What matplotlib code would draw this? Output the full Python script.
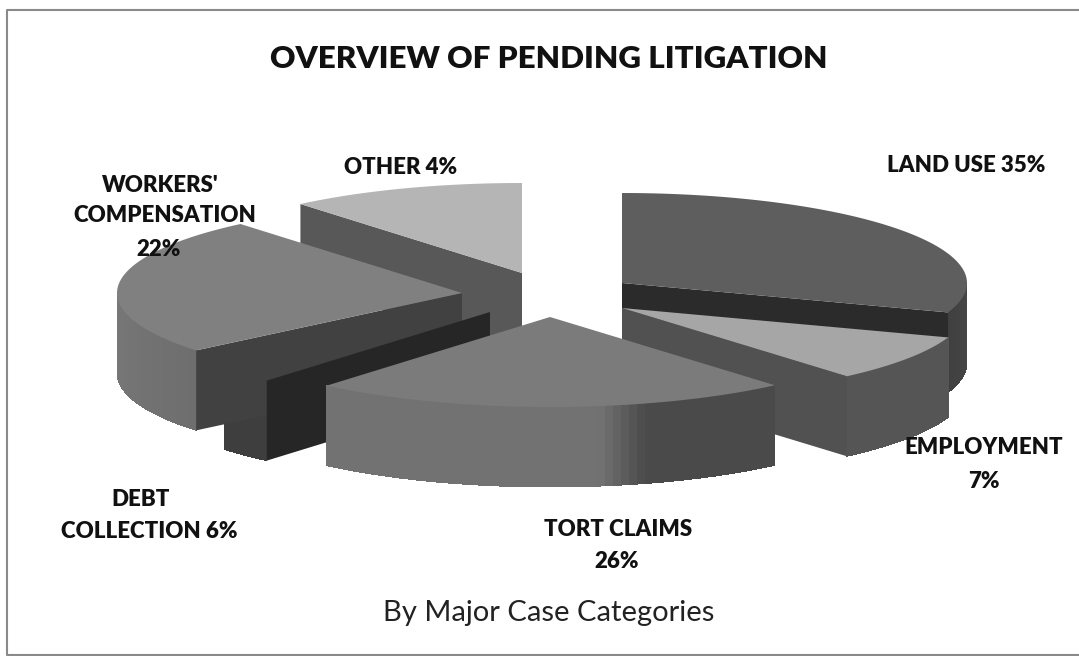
import numpy as np
import matplotlib
matplotlib.use("Agg")
import matplotlib.pyplot as plt
from matplotlib.collections import PolyCollection
from matplotlib.patches import Polygon

plt.rcParams["font.family"] = ["Lato", "DejaVu Sans"]

# printed percentages are in the labels, the slices are not drawn to those,
# so this is the share of the circle each one takes up in the picture
categories = ["LAND USE", "EMPLOYMENT", "TORT CLAIMS", "DEBT COLLECTION", "WORKERS' COMPENSATION", "OTHER"]
printed_pct = [35, 7, 26, 6, 22, 4]
drawn_share = [30.3, 8.4, 22.5, 2.8, 24.9, 11.1]

# where each slice's point ends up after exploding
apex_x = [622, 622, 550, 490, 462, 522]
apex_y = [283, 308, 317, 312, 293, 273]

RX = 345
RY = 90
DEPTH = 80

top_col = ["#5e5e5e", "#a6a6a6", "#7b7b7b", "#303030", "#808080", "#b5b5b5"]
cut_col = ["#2b2b2b", "#515151", "#555555", "#262626", "#414141", "#585858"]
wall_a = ["#484848", "#555555", "#4a4a4a", "#3e3e3e", "#6e6e6e", "#555555"]
wall_b = ["#404040", "#555555", "#727272", "#3e3e3e", "#787878", "#555555"]

ends = np.cumsum(drawn_share) * 3.6
starts = ends - np.array(drawn_share) * 3.6


def rim(i, deg):
    t = np.radians(deg)
    return apex_x[i] + RX * np.sin(t), apex_y[i] - RY * np.cos(t)


def draw_top(ax, i, z):
    deg = np.linspace(starts[i], ends[i], 80)
    x, y = rim(i, deg)
    pts = np.column_stack([np.r_[apex_x[i], x], np.r_[apex_y[i], y]])
    ax.add_patch(Polygon(pts, closed=True, fc=top_col[i], ec="none", zorder=z))


def draw_wall(ax, i, z):
    # only the part of the rim that faces the viewer
    a = max(starts[i], 90)
    b = min(ends[i], 270)
    deg = np.linspace(a, b, 60)
    x, y = rim(i, deg)
    quads = []
    cols = []
    c0 = np.array(matplotlib.colors.to_rgb(wall_a[i]))
    c1 = np.array(matplotlib.colors.to_rgb(wall_b[i]))
    for k in range(len(deg) - 1):
        quads.append([(x[k], y[k]), (x[k + 1], y[k + 1]), (x[k + 1], y[k + 1] + DEPTH), (x[k], y[k] + DEPTH)])
        f = k / (len(deg) - 2)
        if i == 2:
            # the tort wall goes dark quite suddenly on the right half
            f = np.clip((f - 0.3) / 0.1, 0, 1)
        cols.append(c0 + (c1 - c0) * f)
    ax.add_collection(PolyCollection(quads, facecolors=cols, edgecolors="none", antialiaseds=False, zorder=z))


def draw_cut(ax, i, deg, z):
    x, y = rim(i, deg)
    pts = [(apex_x[i], apex_y[i]), (x, y), (x, y + DEPTH), (apex_x[i], apex_y[i] + DEPTH)]
    ax.add_patch(Polygon(pts, closed=True, fc=cut_col[i], ec="none", zorder=z))


fig = plt.figure(figsize=(10.79, 6.56), dpi=100)
ax = fig.add_axes([0, 0, 1, 1])
ax.set_xlim(0, 1079)
ax.set_ylim(656, 0)
ax.axis("off")

# frame, open on the right where the scan cuts it off
ax.plot([1079, 7, 7, 1079], [10, 10, 655, 655], color="#8a8a8a", lw=1.5, zorder=1)

# back to front, order picked to match the original overlaps
draw_cut(ax, 5, starts[5], 2)
draw_top(ax, 5, 3)

draw_wall(ax, 0, 4)
draw_cut(ax, 0, ends[0], 5)
draw_top(ax, 0, 6)

draw_wall(ax, 1, 7)
draw_cut(ax, 1, ends[1], 8)
draw_top(ax, 1, 9)

draw_wall(ax, 3, 10)

draw_wall(ax, 4, 11)
draw_cut(ax, 4, starts[4], 12)
draw_top(ax, 4, 13)

draw_cut(ax, 3, starts[3], 14)

draw_wall(ax, 2, 15)
draw_top(ax, 2, 16)

ax.text(549, 59, "OVERVIEW OF PENDING LITIGATION", fontsize=22.6, fontweight="heavy",
        ha="center", va="center", color="#111111", zorder=20)
ax.text(549, 613, "By Major Case Categories", fontsize=21, ha="center", va="center",
        color="#222222", zorder=20)

label_lines = [
    (966, 166, f"{categories[0]} {printed_pct[0]}%"),
    (984, 448, categories[1]),
    (984, 481, f"{printed_pct[1]}%"),
    (618, 529, categories[2]),
    (617, 562, f"{printed_pct[2]}%"),
    (141, 500, "DEBT"),
    (149, 532, f"COLLECTION {printed_pct[3]}%"),
    (160, 185, "WORKERS'"),
    (165, 216, "COMPENSATION"),
    (159, 249, f"{printed_pct[4]}%"),
    (401, 167, f"{categories[5]} {printed_pct[5]}%"),
]
for lx, ly, txt in label_lines:
    ax.text(lx, ly, txt, fontsize=16, fontweight="heavy", ha="center", va="center",
            color="#111111", zorder=20)

fig.savefig("out.png", dpi=100, facecolor="white")
